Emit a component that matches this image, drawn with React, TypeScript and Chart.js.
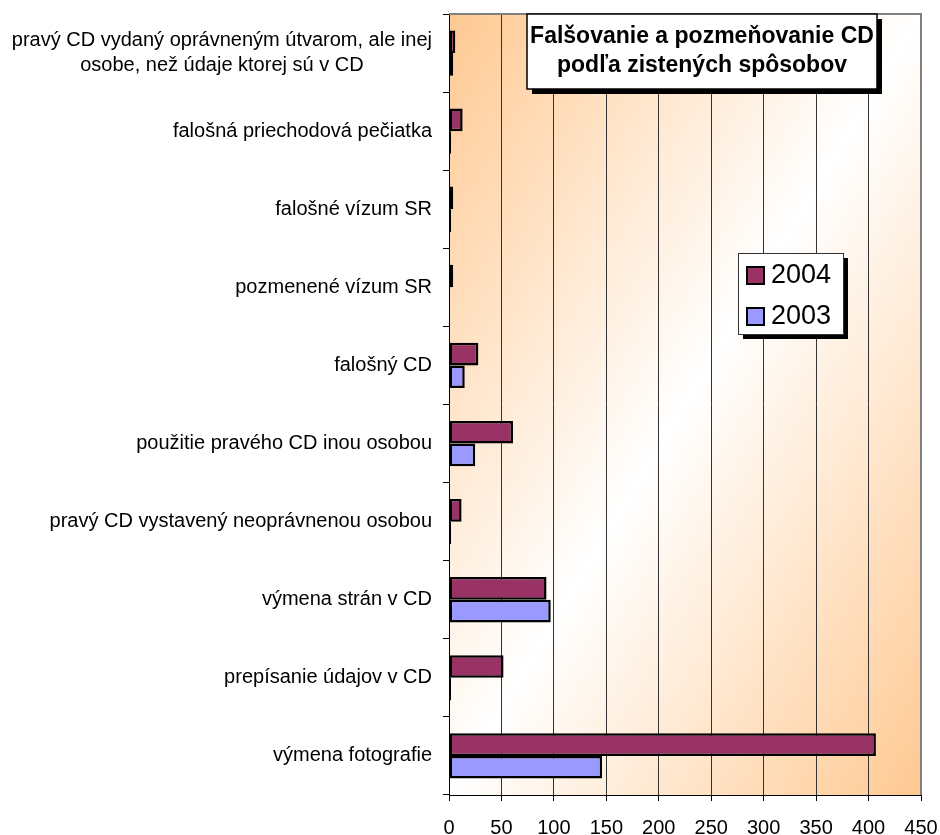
import React, { useEffect, useRef } from "react";
import { Chart, registerables } from "chart.js";

Chart.register(...registerables);

const categories: (string | string[])[] = [
  ["pravý CD vydaný oprávneným útvarom, ale inej", "osobe, než údaje ktorej sú v CD"],
  "falošná priechodová pečiatka",
  "falošné vízum SR",
  "pozmenené vízum SR",
  "falošný CD",
  "použitie pravého CD inou osobou",
  "pravý CD vystavený neoprávnenou osobou",
  "výmena strán v CD",
  "prepísanie údajov v CD",
  "výmena fotografie",
];
const values2004 = [6, 13, 4, 4, 28, 61, 12, 93, 52, 407];
const values2003 = [4, 2, 2, 0, 15, 25, 2, 97, 2, 146];
const seriesNames = ["2004", "2003"];
const seriesColors = ["#993366", "#9999FF"];
const xMin = 0;
const xMax = 450;
const xStep = 50;
const titleLines = ["Falšovanie a pozmeňovanie CD", "podľa zistených spôsobov"];

const FONT = "Arial, 'Liberation Sans', sans-serif";

const decorPlugin = {
  id: "decor",
  beforeDraw(chart: any) {
    const { ctx, chartArea } = chart;
    const { left, top, right, bottom } = chartArea;
    const W = right - left;
    const H = bottom - top;
    const cx = (left + right) / 2;
    const cy = (top + bottom) / 2;
    const k = (W * H) / (W * W + H * H);
    const g = ctx.createLinearGradient(cx - k * H, cy - k * W, cx + k * H, cy + k * W);
    g.addColorStop(0, "#FFC992");
    g.addColorStop(0.5, "#FFFFFF");
    g.addColorStop(1, "#FFC992");
    ctx.save();
    ctx.fillStyle = g;
    ctx.fillRect(left, top, W, H);
    ctx.restore();
  },
  afterDraw(chart: any) {
    const { ctx, chartArea } = chart;
    const { left, top, right, bottom } = chartArea;
    const yScale = chart.scales.y;
    ctx.save();
    // plot border top/right
    ctx.strokeStyle = "#808080";
    ctx.lineWidth = 2;
    ctx.beginPath();
    ctx.moveTo(left, top);
    ctx.lineTo(right, top);
    ctx.lineTo(right, bottom);
    ctx.stroke();

    // category labels
    ctx.fillStyle = "#000";
    ctx.font = `20px ${FONT}`;
    ctx.textBaseline = "middle";
    const labelRight = left - 17;
    const lineH = 25;
    chart.data.labels.forEach((lab: any, i: number) => {
      const y = yScale.getPixelForValue(i);
      const lines: string[] = Array.isArray(lab) ? lab : [lab];
      const widths = lines.map((l) => ctx.measureText(l).width);
      const maxW = Math.max(...widths);
      const startY = y - ((lines.length - 1) * lineH) / 2;
      lines.forEach((l, j) => {
        if (lines.length > 1) {
          ctx.textAlign = "center";
          ctx.fillText(l, labelRight - maxW / 2, startY + j * lineH);
        } else {
          ctx.textAlign = "right";
          ctx.fillText(l, labelRight, startY + j * lineH);
        }
      });
    });

    // title box
    const tx = 527, ty = 14, tw = 350, th = 75, sh = 5;
    ctx.fillStyle = "#000";
    ctx.fillRect(tx + sh, ty + sh, tw, th);
    ctx.fillStyle = "#fff";
    ctx.fillRect(tx, ty, tw, th);
    ctx.strokeStyle = "#000";
    ctx.lineWidth = 1.5;
    ctx.strokeRect(tx, ty, tw, th);
    ctx.fillStyle = "#000";
    ctx.font = `bold 23px ${FONT}`;
    ctx.textAlign = "center";
    ctx.textBaseline = "middle";
    ctx.fillText(titleLines[0], tx + tw / 2, ty + 23);
    ctx.fillText(titleLines[1], tx + tw / 2, ty + 52);

    // legend box
    const lx = 738, ly = 253, lw = 105, lh = 81;
    ctx.fillStyle = "#000";
    ctx.fillRect(lx + sh, ly + sh, lw, lh);
    ctx.fillStyle = "#fff";
    ctx.fillRect(lx, ly, lw, lh);
    ctx.strokeStyle = "#333";
    ctx.lineWidth = 1;
    ctx.strokeRect(lx + 0.5, ly + 0.5, lw, lh);
    ctx.font = `27px ${FONT}`;
    ctx.textAlign = "left";
    ctx.textBaseline = "middle";
    chart.data.datasets.forEach((ds: any, i: number) => {
      const cyy = ly + 22 + i * 41;
      ctx.fillStyle = ds.backgroundColor;
      ctx.fillRect(lx + 9, cyy - 8, 17, 17);
      ctx.strokeStyle = "#000";
      ctx.lineWidth = 2;
      ctx.strokeRect(lx + 9, cyy - 8, 17, 17);
      ctx.fillStyle = "#000";
      ctx.fillText(ds.label, lx + 33, cyy + 1);
    });
    ctx.restore();
  },
};

export default function App() {
  const ref = useRef<HTMLCanvasElement | null>(null);
  useEffect(() => {
    if (!ref.current) return;
    const chart = new Chart(ref.current, {
      type: "bar",
      data: {
        labels: categories as any,
        datasets: [
          {
            label: seriesNames[0],
            data: values2004,
            backgroundColor: seriesColors[0],
            borderColor: "#000",
            borderWidth: 2.5,
            borderSkipped: false,
          },
          {
            label: seriesNames[1],
            data: values2003,
            backgroundColor: seriesColors[1],
            borderColor: "#000",
            borderWidth: 2.5,
            borderSkipped: false,
          },
        ],
      },
      options: {
        indexAxis: "y",
        responsive: false,
        animation: false,
        maintainAspectRatio: false,
        layout: { padding: { top: 14, right: 19, left: 0, bottom: 0 } },
        datasets: { bar: { categoryPercentage: 0.58, barPercentage: 1 } },
        plugins: {
          legend: { display: false },
          tooltip: { enabled: false },
          title: { display: false },
        },
        scales: {
          x: {
            type: "linear",
            min: xMin,
            max: xMax,
            ticks: {
              stepSize: xStep,
              color: "#000",
              font: { family: FONT, size: 20 },
              padding: 15,
              maxRotation: 0,
            },
            grid: {
              color: "#333",
              lineWidth: 1,
              tickColor: "#000",
              tickLength: 6,
            },
            border: { color: "#000", width: 1 },
            afterFit: (s: any) => {
              s.height = 40;
              s.paddingRight = 0;
              s.paddingLeft = 0;
            },
          },
          y: {
            type: "category",
            offset: true,
            ticks: { display: false },
            grid: {
              drawOnChartArea: false,
              drawTicks: true,
              tickLength: 6,
              color: "#000",
              offset: true,
            },
            border: { color: "#000", width: 1 },
            afterFit: (s: any) => {
              s.width = 449;
              s.paddingTop = 0;
              s.paddingBottom = 0;
            },
          },
        },
      } as any,
      plugins: [decorPlugin],
    });
    return () => chart.destroy();
  }, []);
  return (
    <div style={{ position: "absolute", left: 0, top: 0, width: 940, height: 835, background: "#fff" }}>
      <canvas ref={ref} width={940} height={835} style={{ display: "block" }} />
    </div>
  );
}
